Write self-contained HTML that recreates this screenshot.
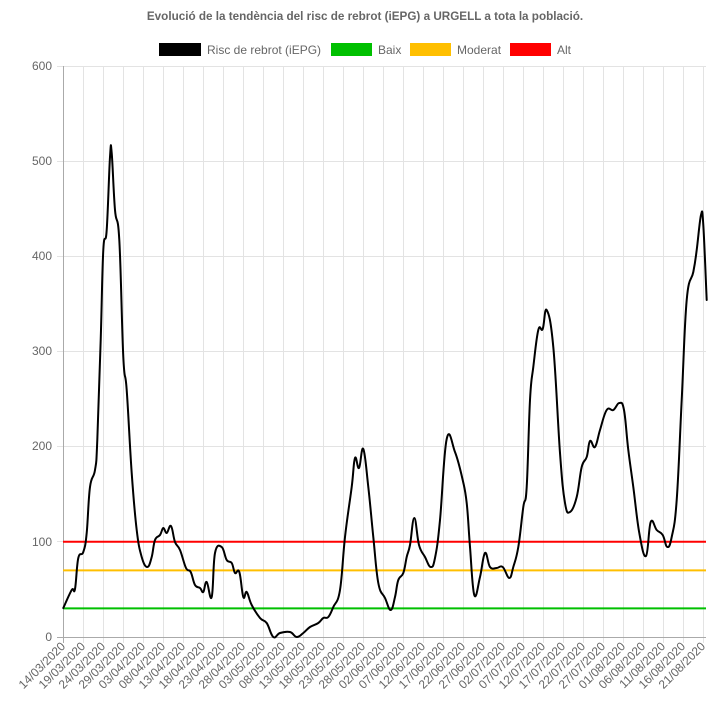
<!DOCTYPE html>
<html><head><meta charset="utf-8"><style>
html,body{margin:0;padding:0;background:#fff;}
svg{display:block;font-family:"Liberation Sans",Arial,sans-serif;}
</style></head><body>
<svg width="726" height="717" viewBox="0 0 726 717" xmlns="http://www.w3.org/2000/svg">
<text x="365" y="20" text-anchor="middle" font-size="11.7" font-weight="bold" fill="#666">Evolució de la tendència del risc de rebrot (iEPG) a URGELL a tota la població.</text>
<rect x="159" y="43" width="42" height="13" fill="#000"/>
<text x="207" y="54" font-size="12" fill="#666">Risc de rebrot (iEPG)</text>
<rect x="331" y="43" width="41" height="13" fill="#00c000"/>
<text x="378" y="54" font-size="12" fill="#666">Baix</text>
<rect x="410" y="43" width="41" height="13" fill="#ffbf00"/>
<text x="457" y="54" font-size="12" fill="#666">Moderat</text>
<rect x="510" y="43" width="41" height="13" fill="#ff0000"/>
<text x="557" y="54" font-size="12" fill="#666">Alt</text>
<g stroke="#e3e3e3" stroke-width="1">
<path d="M83.5 66V643M103.5 66V643M123.5 66V643M143.5 66V643M163.5 66V643M183.5 66V643M203.5 66V643M223.5 66V643M243.5 66V643M263.5 66V643M283.5 66V643M303.5 66V643M323.5 66V643M343.5 66V643M363.5 66V643M383.5 66V643M403.5 66V643M423.5 66V643M443.5 66V643M463.5 66V643M483.5 66V643M503.5 66V643M523.5 66V643M543.5 66V643M563.5 66V643M583.5 66V643M603.5 66V643M623.5 66V643M643.5 66V643M663.5 66V643M683.5 66V643M703.5 66V643"/>
<path d="M57 66.5H706M57 161.5H706M57 256.5H706M57 351.5H706M57 446.5H706M57 541.5H706"/>
</g>
<path d="M57 637.5H706M63.5 66V643" stroke="#aaa" stroke-width="1"/>
<g font-size="12" fill="#666" text-anchor="end">
<text x="52" y="70">600</text><text x="52" y="165">500</text><text x="52" y="260">400</text><text x="52" y="355">300</text><text x="52" y="450">200</text><text x="52" y="546">100</text><text x="52" y="641">0</text>
</g>
<line x1="63" y1="608.4" x2="706" y2="608.4" stroke="#00c000" stroke-width="2"/>
<line x1="63" y1="570.4" x2="706" y2="570.4" stroke="#ffbf00" stroke-width="2"/>
<line x1="63" y1="541.8" x2="706" y2="541.8" stroke="#ff0000" stroke-width="2"/>
<path id="curve" fill="none" stroke="#000" stroke-width="2" stroke-linejoin="round" stroke-linecap="round" d=""/>
<g font-size="12" fill="#666" text-anchor="end">
<text transform="translate(66,647) rotate(-45)">14/03/2020</text>
<text transform="translate(86,647) rotate(-45)">19/03/2020</text>
<text transform="translate(106,647) rotate(-45)">24/03/2020</text>
<text transform="translate(126,647) rotate(-45)">29/03/2020</text>
<text transform="translate(146,647) rotate(-45)">03/04/2020</text>
<text transform="translate(166,647) rotate(-45)">08/04/2020</text>
<text transform="translate(186,647) rotate(-45)">13/04/2020</text>
<text transform="translate(206,647) rotate(-45)">18/04/2020</text>
<text transform="translate(226,647) rotate(-45)">23/04/2020</text>
<text transform="translate(246,647) rotate(-45)">28/04/2020</text>
<text transform="translate(266,647) rotate(-45)">03/05/2020</text>
<text transform="translate(286,647) rotate(-45)">08/05/2020</text>
<text transform="translate(306,647) rotate(-45)">13/05/2020</text>
<text transform="translate(326,647) rotate(-45)">18/05/2020</text>
<text transform="translate(346,647) rotate(-45)">23/05/2020</text>
<text transform="translate(366,647) rotate(-45)">28/05/2020</text>
<text transform="translate(386,647) rotate(-45)">02/06/2020</text>
<text transform="translate(406,647) rotate(-45)">07/06/2020</text>
<text transform="translate(426,647) rotate(-45)">12/06/2020</text>
<text transform="translate(446,647) rotate(-45)">17/06/2020</text>
<text transform="translate(466,647) rotate(-45)">22/06/2020</text>
<text transform="translate(486,647) rotate(-45)">27/06/2020</text>
<text transform="translate(506,647) rotate(-45)">02/07/2020</text>
<text transform="translate(526,647) rotate(-45)">07/07/2020</text>
<text transform="translate(546,647) rotate(-45)">12/07/2020</text>
<text transform="translate(566,647) rotate(-45)">17/07/2020</text>
<text transform="translate(586,647) rotate(-45)">22/07/2020</text>
<text transform="translate(606,647) rotate(-45)">27/07/2020</text>
<text transform="translate(626,647) rotate(-45)">01/08/2020</text>
<text transform="translate(646,647) rotate(-45)">06/08/2020</text>
<text transform="translate(666,647) rotate(-45)">11/08/2020</text>
<text transform="translate(686,647) rotate(-45)">16/08/2020</text>
<text transform="translate(706,647) rotate(-45)">21/08/2020</text>
</g>
</svg>
<script>
var s="63.3,608 71.7,590 75,589 78.3,558 83.3,552 86.7,533 90,487 95,470 97.3,440 100.7,340 103.3,250 106.7,230 110,157 111.7,153 115,210 119.3,240 123.3,357 126.7,390 131.7,473 136.7,530 141.7,557 147.3,567 151.7,557 155,540 160,535 163.3,528 166.7,533 171,526 175,542 180,550 186,568 190.7,572 195,585 200,588 203.3,592 206.7,582 211.7,597 215,553 221.7,547 226.7,560 231.7,563 235,573 239.3,572 243.3,597 246.7,592 251.7,605 260,618 266.7,623 273.3,637 280,633 290,632 296.7,637 303.3,633 310,627 318.3,623 323.3,618 328.3,617 333.3,607 340,590 345,537 351.7,487 355,458 359,468 363.3,449 368.3,487 373.3,537 378.3,583 385,598 390.7,610 395,597 398.3,580 403.3,573 406.7,557 410,545 414.3,518 419,545 425,557 430.7,567 435,558 440,520 446.7,439 455,452 462.7,480 466.7,503 470,547 474.3,595 480,577 485,553 490,567 496.7,568 502.7,567 509.3,578 513.3,567 518.3,547 523.3,507 526.7,487 530,400 533.3,367 538.3,330 542.7,329 546.7,310 553.3,347 560,453 565,503 570,512 576.7,497 581.7,467 586.7,457 590,441 595,447 600,430 606.7,410 613.3,410 619.3,403 624,410 628.3,450 633.3,487 639.3,533 646,556 650.7,522 656.7,530 662.7,535 667.3,547 671.7,537 676.7,500 681.7,400 686.7,300 693.3,272 696.7,250 701,215 703.3,225 706.7,300";
var p=s.split(" ").map(function(t){return t.split(",").map(Number);});
var d="M"+p[0][0]+" "+p[0][1];
for(var i=0;i<p.length-1;i++){var a=p[i-1]||p[i],b=p[i],c=p[i+1],e=p[i+2]||c,k=0.2;
d+="C"+(b[0]+(c[0]-a[0])*k).toFixed(1)+" "+(b[1]+(c[1]-a[1])*k).toFixed(1)+" "+(c[0]-(e[0]-b[0])*k).toFixed(1)+" "+(c[1]-(e[1]-b[1])*k).toFixed(1)+" "+c[0]+" "+c[1];}
document.getElementById("curve").setAttribute("d",d);
</script>
</body></html>
